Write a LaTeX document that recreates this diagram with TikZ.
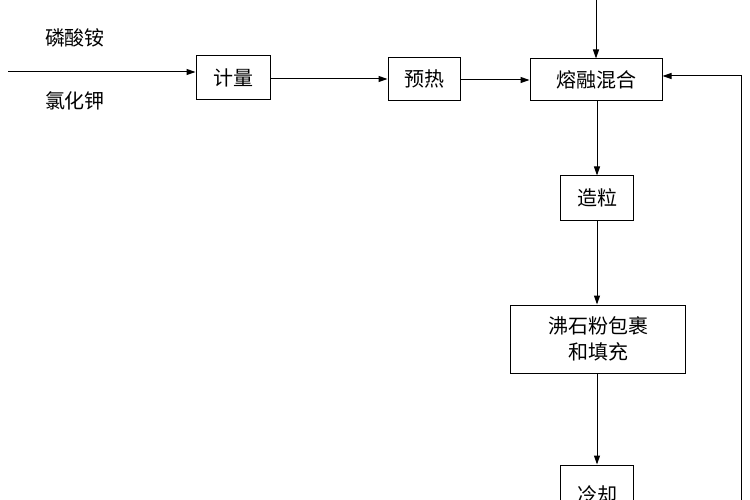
\documentclass[tikz,border=0pt]{standalone}
\usepackage{fontspec}
\setmainfont{Noto Sans CJK SC}
\usetikzlibrary{arrows.meta}
\begin{document}
\begin{tikzpicture}[x=1pt,y=-1pt,
  box/.style={draw,line width=1pt,inner sep=0pt,font=\fontsize{20}{26}\selectfont,align=center},
  lbl/.style={font=\fontsize{20}{24}\selectfont},
  arr/.style={line width=1pt,-{Triangle[length=9pt,width=6pt]}}]
\useasboundingbox (0,0) rectangle (750,500);
\node[box,minimum width=74pt,minimum height=44pt] (jl) at (233,78) {计量};
\node[box,minimum width=72pt,minimum height=43pt] (yr) at (424,79) {预热};
\node[box,minimum width=132pt,minimum height=42pt] (rr) at (596,80) {熔融混合};
\node[box,minimum width=73pt,minimum height=44pt] (zl) at (597,198) {造粒};
\node[box,minimum width=175pt,minimum height=68pt] (bg) at (598,339) {沸石粉包裹\\和填充};
\node[box,minimum width=73pt,minimum height=60pt] (lq) at (597,495) {冷却};
\node[lbl] (a) at (75,38) {磷酸铵};
\node[lbl] (b) at (75,101) {氯化钾};
\coordinate (in) at (8,72);
\coordinate (top) at (596,-2);
\coordinate (br) at (741,502);
\draw[arr] (in) -- (jl.west |- in);
\draw[arr] (jl.east |- yr) -- (yr.west);
\draw[arr] (yr.east |- rr) -- (rr.west);
\draw[arr] (top) -- (rr.north);
\draw[arr] (rr.south -| zl) -- (zl.north);
\draw[arr] (zl.south) -- (bg.north -| zl);
\draw[arr] (bg.south -| lq) -- (lq.north);
\draw[arr] (br) |- ([yshift=4pt]rr.east);
\end{tikzpicture}
\end{document}
